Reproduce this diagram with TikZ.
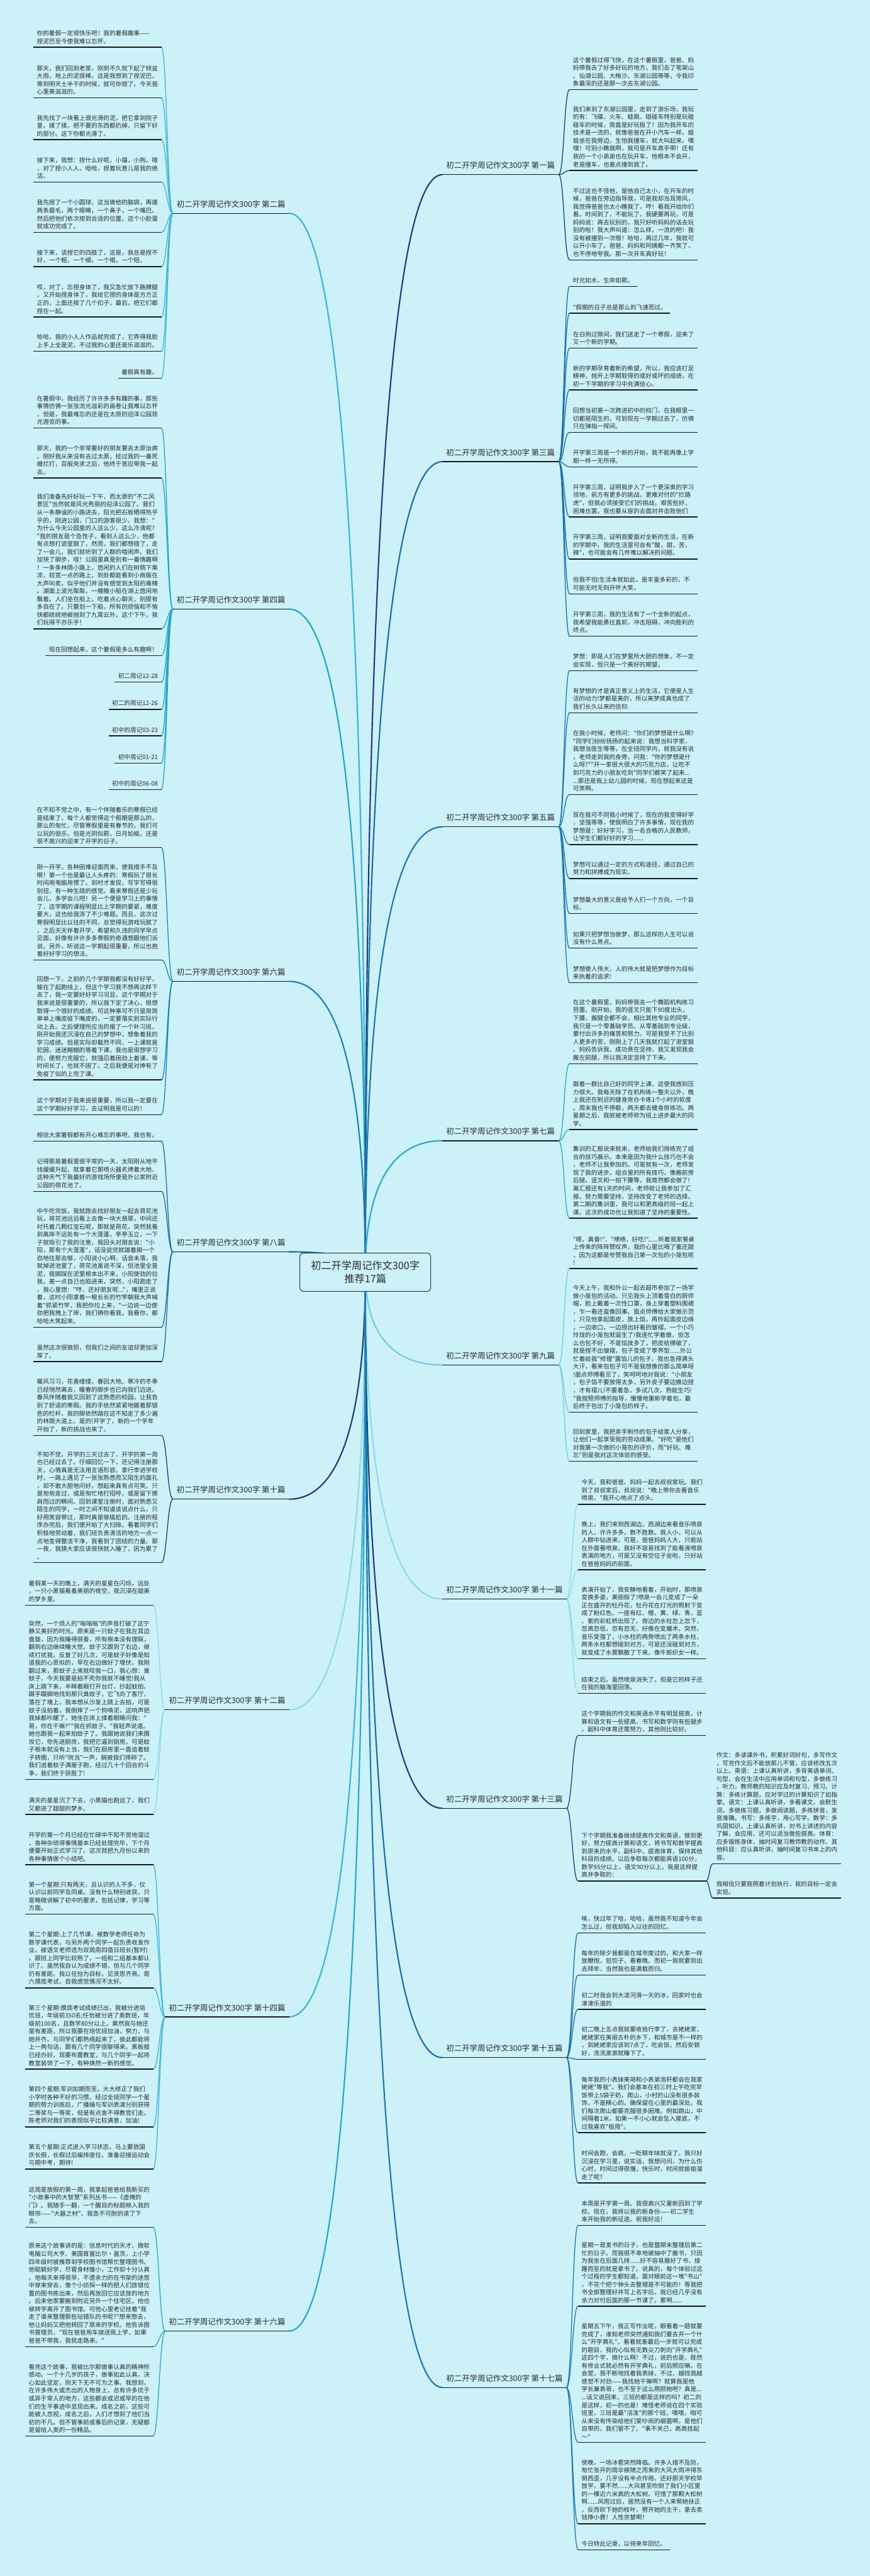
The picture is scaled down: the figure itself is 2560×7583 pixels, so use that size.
\documentclass[tikz,border=0pt]{standalone}
\usepackage{fontspec}
\newfontfamily\cjkfont{Noto Sans CJK SC}
\usetikzlibrary{positioning,calc}
\definecolor{bgc}{HTML}{CCF1F8}
\definecolor{txt}{HTML}{2A2A2A}
\definecolor{ulc}{HTML}{1A1A1A}
\definecolor{rootc}{HTML}{3A3A3A}
\definecolor{c1}{HTML}{1B3F7F}
\definecolor{c2}{HTML}{3DB5D5}
\definecolor{c3}{HTML}{1A6EA6}
\definecolor{c4}{HTML}{21A5C5}
\definecolor{c5}{HTML}{1F75AE}
\definecolor{c6}{HTML}{1784B5}
\definecolor{c7}{HTML}{2BAACB}
\definecolor{c8}{HTML}{1A6BA0}
\definecolor{c9}{HTML}{6FCDE2}
\definecolor{c10}{HTML}{1B3C7C}
\definecolor{c11}{HTML}{8DD9EA}
\definecolor{c12}{HTML}{8DD9EA}
\definecolor{c13}{HTML}{1B3F7F}
\definecolor{c14}{HTML}{3DB5D5}
\definecolor{c15}{HTML}{1A6EA6}
\definecolor{c16}{HTML}{27A7C9}
\definecolor{c17}{HTML}{1C78B0}
\definecolor{tc9}{HTML}{1D5C68}
\definecolor{tc11}{HTML}{2898B4}
\definecolor{tc12}{HTML}{2EA5C4}
\definecolor{tc14}{HTML}{22505D}
\newcommand\leaffont{\cjkfont\fontsize{8.9pt}{11.6pt}\selectfont}
\newcommand\branchfont{\cjkfont\fontsize{11.5pt}{14pt}\selectfont}
\newcommand\rootfont{\cjkfont\fontsize{15pt}{19pt}\selectfont}
\pgfdeclarelayer{bg}
\pgfdeclarelayer{links}
\pgfsetlayers{bg,links,main}

\begin{document}
\begin{tikzpicture}[
    x=0.5pt, y=-0.5pt,
    uline/.style={draw=ulc, line width=1.25pt},
    under/.style={append after command={(\tikzlastnode.south west) edge[uline] (\tikzlastnode.south east)}},
    leaf/.style={under, font=\leaffont, text=txt, inner xsep=5pt, inner ysep=4.5pt, align=left},
    wide/.style={leaf, text width=178pt},
    lleaf/.style={wide, anchor=south east},
    rleaf/.style={wide, anchor=south west},
    lshort/.style={leaf, anchor=south east},
    rshort/.style={leaf, anchor=south west},
    topic/.style={under, font=\branchfont, text=txt, inner xsep=5.5pt, inner ysep=8pt},
    ltopic/.style={topic, anchor=south east},
    rtopic/.style={topic, anchor=south west},
    root/.style={draw=rootc, line width=1pt, rounded corners=5pt, fill=bgc, minimum width=192.5pt, minimum height=56.5pt, align=center, font=\rootfont, text=txt},
    trunk/.style={line width=2pt},
    twig/.style={line width=1.2pt, distance=8pt}
]
\begin{pgfonlayer}{bg}
\fill[bgc] (0,0) rectangle (2560,7583);
\end{pgfonlayer}
\useasboundingbox (0,0) rectangle (2560,7583);

\node[root] (root) at (1075,3745) {初二开学周记作文300字\\推荐17篇};

% topics
\node[rtopic] (b1) at (1302,514) {初二开学周记作文300字 第一篇};
\node[ltopic] (b2) at (851,628) {初二开学周记作文300字 第二篇};
\node[rtopic] (b3) at (1302,1359) {初二开学周记作文300字 第三篇};
\node[ltopic] (b4) at (851,1793) {初二开学周记作文300字 第四篇};
\node[rtopic] (b5) at (1302,2434) {初二开学周记作文300字 第五篇};
\node[ltopic] (b6) at (851,2889) {初二开学周记作文300字 第六篇};
\node[rtopic] (b7) at (1302,3358) {初二开学周记作文300字 第七篇};
\node[ltopic] (b8) at (851,3685) {初二开学周记作文300字 第八篇};
\node[rtopic] (b9) at (1302,4018) {初二开学周记作文300字 第九篇};
\node[ltopic] (b10) at (851,4413) {初二开学周记作文300字 第十篇};
\node[rtopic] (b11) at (1302,4707) {初二开学周记作文300字 第十一篇};
\node[ltopic] (b12) at (851,5033) {初二开学周记作文300字 第十二篇};
\node[rtopic] (b13) at (1302,5323) {初二开学周记作文300字 第十三篇};
\node[ltopic] (b14) at (851,5937) {初二开学周记作文300字 第十四篇};
\node[rtopic] (b15) at (1302,6057) {初二开学周记作文300字 第十五篇};
\node[ltopic] (b16) at (851,6862) {初二开学周记作文300字 第十六篇};
\node[rtopic] (b17) at (1302,7028) {初二开学周记作文300字 第十七篇};

% 第一篇
\node[rleaf] (t1-1) at (1676,264) {这个暑假过得飞快，在这个暑假里，爸爸、妈\\妈带我去了好多好玩的地方。我们去了笔架山\\、仙湖公园、大梅沙、东湖公园等等，令我印\\象最深的还是那一次去东湖公园。};
\node[rleaf] (t1-2) at (1676,502) {我们来到了东湖公园里，走到了游乐场，我玩\\的有：飞碟、火车、蛙跳、碰碰车特别是玩碰\\碰车的时候，简直是好玩极了！因为我开车的\\技术是一流的，就像爸爸在开小汽车一样。姐\\姐坐在我旁边，生怕我撞车，就大叫起来。嘿\\嘿！可别小瞧我啊，我可是开车高手啊！还有\\我的一个小弟弟也在玩开车，他根本不会开，\\老是撞车，也差点撞到我了。};
\node[rleaf] (t1-3) at (1676,765) {不过这也不怪他，是他自己太小，在开车的时\\候，爸爸在旁边指导我，可是我却当耳旁风，\\我觉得爸爸也太小瞧我了，哼！看我开给你们\\看。时间到了，不能玩了，我硬要再玩，可是\\妈妈说：再去玩别的，我只好听妈妈的话去玩\\别的啦！我大声叫道：怎么样，一流的吧！我\\没有被撞到一次哦！哈哈，再过几年，我就可\\以开小车了。爸爸、妈妈和阿姨都一齐笑了，\\也不停地夸我。那一次开车真好玩！};

% 第二篇
\node[lleaf] (t2-1) at (475,139) {你的暑假一定很快乐吧！我的暑假趣事——\\捏泥巴至今使我难以忘怀。};
\node[lleaf] (t2-2) at (475,288) {那天，我们回到老家，刚到不久就下起了倾盆\\大雨，地上的泥很稀，这是我想到了捏泥巴，\\等到明天土半干的时候，就可你捏了。今天我\\心里美滋滋的。};
\node[lleaf] (t2-3) at (475,411) {我先找了一块看上很光滑的泥，把它拿到院子\\里，揉了揉，把不要的东西都扔掉，只留下好\\的部分。这下你都光滑了。};
\node[lleaf] (t2-4) at (475,536) {接下来，我想：捏什么好呢，小猫，小狗。哦\\，对了捏小人人，哈哈，捏着玩意儿是我的绝\\活。};
\node[lleaf] (t2-5) at (475,684) {我先捏了一个小圆球，这当做他的脑袋，再搓\\两条眉毛，两个眼睛，一个鼻子，一个嘴巴。\\然后把他们依次按到合适的位置。这个小脸蛋\\就成功完成了。};
\node[lleaf] (t2-6) at (475,785) {接下来，该捏它的四肢了，这是，我总是捏不\\好，一个粗，一个细，一个唱，一个短。};
\node[lleaf] (t2-7) at (475,933) {哎，对了，忘捏身体了，我又急忙放下胳膊腿\\，又开始捏身体了，我给它捏的身体是方方正\\正的，上面还按了几个扣子，最后，把它们都\\捏在一起。};
\node[lleaf] (t2-8) at (475,1034) {哈哈，我的小人人作品就完成了，它弄得我脸\\上手上全是泥，不过我的心里还是乐滋滋的。};
\node[lshort] (t2-9) at (475,1113) {暑假真有趣。};

% 第三篇
\node[rshort] (t3-1) at (1676,843) {时光如水，生命如歌。};
\node[rshort] (t3-2) at (1676,922) {"假期的日子总是那么的飞速而过。};
\node[rleaf] (t3-3) at (1676,1025) {在白驹过隙间，我们送走了一个寒假，迎来了\\又一个新的学期。};
\node[rleaf] (t3-4) at (1676,1148) {新的学期孕育着新的希望，所以，我应该打足\\精神，抛开上学期取得的或好或坏的成绩，在\\初一下学期的学习中充满信心。};
\node[rleaf] (t3-5) at (1676,1273) {回想当初第一次跨进初中的校门，在我眼里一\\切都是陌生的，可到现在一学期过去了，仿佛\\只在弹指一挥间。};
\node[rleaf] (t3-6) at (1676,1374) {开学第三周是一个新的开始，我不能再像上学\\期一样一无所得。};
\node[rleaf] (t3-7) at (1676,1522) {开学第三周，证明我步入了一个更深奥的学习\\领地，前方有更多的挑战，更难对付的"拦路\\虎"，但我必须接受它们的挑战，艰苦些好，\\困难也罢，我也要从容的去面对并击败他们};
\node[rleaf] (t3-8) at (1676,1646) {开学第三周，证明我要面对全新的生活，在新\\的学期中，我的生活里可会有"酸，甜，苦，\\辣"，也可能会有几件难以解决的问题。};
\node[rleaf] (t3-9) at (1676,1748) {但我不怕!生活本就如此，是丰富多彩的，不\\可能无时无刻开怀大笑。};
\node[rleaf] (t3-10) at (1676,1873) {开学第三周，我的生活有了一个全新的起点，\\我希望我能勇往直前，冲击阻碍，冲向胜利的\\终点。};

% 第四篇
\node[lleaf] (t4-1) at (475,1260) {在暑假中，我经历了许许多多有趣的事，那些\\事情仿佛一张张流光溢彩的画卷让我难以忘怀\\，但是，我最难忘的还是在太原的迎泽公园观\\光游览的事。};
\node[lleaf] (t4-2) at (475,1407) {那天，我的一个非常要好的朋友要去太原治病\\。刚好我从来没有去过太原，经过我的一番死\\缠烂打，百般央求之后，他终于答应带我一起\\去。};
\node[lleaf] (t4-3) at (475,1851) {我们准备先好好玩一下午，而太原的"不二风\\景区"当然就是风光秀丽的迎泽公园了。我们\\从一条静谧的小路进去，阳光把石板晒得热乎\\乎的，刚进公园，门口的游客很少。我想："\\为什么今天公园里的人这么少，这么冷清呢?\\"我的朋友是个急性子，看到人这么少，他都\\有点想打退堂鼓了。然而，我们都想错了，走\\了一会儿，我们就听到了人群的喧闹声。我们\\加快了脚步，哇！公园里真是别有一番情趣啊\\！一条条林荫小路上，悠闲的人们在树荫下乘\\凉，较宽一点的路上，到处都能看到小商贩在\\大声叫卖，似乎他们并没有感觉到太阳的毒辣\\。湖面上波光粼粼，一艘艘小船在湖上悠闲地\\飘着。人们坐在船上，吃着点心聊天，别提有\\多自在了。只要划一下船，所有的烦恼和不愉\\快都统统地被抛到了九霄云外。这个下午，我\\们玩得不亦乐乎！};
\node[lshort] (t4-4) at (475,1930) {现在回想起来，这个暑假是多么有趣啊！};
\node[lshort] (t4-5) at (475,2008) {初二周记12-28};
\node[lshort] (t4-6) at (475,2088) {初二的周记12-26};
\node[lshort] (t4-7) at (475,2166) {初中的周记03-23};
\node[lshort] (t4-8) at (475,2246) {初中周记01-21};
\node[lshort] (t4-9) at (475,2324) {初中的周记06-08};

% 第五篇
\node[rleaf] (t5-1) at (1676,1974) {梦想：即是人们在梦里所大胆的想象，不一定\\会实现，但只是一个美好的期望。};
\node[rleaf] (t5-2) at (1676,2098) {有梦想的才是真正意义上的生活，它便是人生\\活的动力!梦都是美的，所以美梦成真也成了\\我们长久以来的信仰.};
\node[rleaf] (t5-3) at (1676,2339) {在我小时候，老师问："你们的梦想是什么啊?\\"同学们纷纷扬扬的起来说：我想当科学家，\\我想当医生等等，在全班同学内，就我没有说\\，老师走到我的身旁，问我："你的梦想是什\\么呀?""开一家很大很大的巧克力店，让吃不\\到巧克力的小朋友吃到"同学们都笑了起来...\\...那还是我上幼儿园的时候，现在想起来这是\\可笑啊。};
\node[rleaf] (t5-4) at (1676,2486) {现在我可不同我小时候了，现在的我变得好学\\，坚强等等，使我明白了许多事情，现在我的\\梦想是：好好学习，当一名合格的人民教师，\\让学生们都好好的学习......};
\node[rleaf] (t5-5) at (1676,2586) {梦想可以通过一定的方式和途径，通过自己的\\努力和拼搏成为现实。};
\node[rleaf] (t5-6) at (1676,2689) {梦想最大的意义是给予人们一个方向，一个目\\标。};
\node[rleaf] (t5-7) at (1676,2791) {如果只把梦想当做梦，那么这样的人生可以说\\没有什么亮点。};
\node[rleaf] (t5-8) at (1676,2893) {梦想使人伟大，人的伟大就是把梦想作为目标\\来执着的追求!};

% 第六篇
\node[lleaf] (t6-1) at (475,2495) {在不知不觉之中，有一个伴随着乐的寒假已经\\是结束了，每个人都觉得这个假期是那么的，\\那么的匆忙，尽管寒假里是有春节的，我们可\\以玩的很乐，但是光阴似箭，日月如梭。还是\\很不高兴的迎来了开学的日子。};
\node[lleaf] (t6-2) at (475,2826) {刚一开学，各种困难迎面而来，使我措手不及\\啊！第一个也是最让人头疼的：寒假玩了很长\\时间用电脑用惯了。到时才发现，写字写得很\\别扭，有一种生疏的感觉。看来寒假还是少玩\\会儿，多学会儿吧！另一个便是学习上的事情\\了，这学期的课程明显比上学期的要紧，难度\\要大，这也给我添了不少难题。而且，这次过\\寒假明显比以往的不同，总觉得玩游戏玩腻了\\，之后天天伴着开学，希望和久违的同学早点\\见面，好像有许许多多寒假的奇遇想跟他们诉\\说。另外，听说这一学期起很重要，所以也抱\\着好好学习的想法。};
\node[lleaf] (t6-3) at (475,3179) {回想一下，之前的几个学期我都没有好好学，\\输在了起跑线上，但这个学习我不想再这样下\\去了，我一定要好好学习况且，这个学期对于\\我来说是很重要的，所以我下定了决心，很想\\取得一个很好的成绩。可这种事可不只是简简\\单单上嘴皮碰下嘴皮的，一定要落实到实际行\\动上去。之后便理所应当的报了一个补习班，\\刚开始我还沉浸在自己的梦想中，想象着我的\\学习成绩。但是实际却截然不同，一上课就是\\犯困，迷迷糊糊的等着下课，我也是很想学习\\的，便努力克服它，就强忍着困劲上着课，等\\时间长了，也就不困了。之后我便是对抻有了\\免疫了似的上完了课。};
\node[lleaf] (t6-4) at (475,3281) {这个学期对于我来说很重要，所以我一定要在\\这个学期好好学习，去证明我是可以的！};

% 第七篇
\node[rleaf] (t7-1) at (1676,3131) {在这个暑假里，妈妈带我去一个舞蹈机构练习\\芭蕾。刚开始，我的竖叉只能下90度出头，\\下腰、搬腿全都不会，相比其他专业的同学，\\我只是一个零基础学员。从零基础到专业级，\\要付出许多的痛苦和努力。可是我受不了比别\\人更多的苦，刚刚上了几天我就打起了退堂鼓\\。妈妈告诉我，成功贵在坚持，我又发现我会\\搬左前腿，所以我决定坚持了下来。};
\node[rleaf] (t7-2) at (1676,3325) {跟着一群比自己好的同学上课，这使我感到压\\力很大。我每天除了在机构练一整天以外，晚\\上我还在附近的健身房办卡练1个小时的软度\\。周末我也不停歇，两天都去健身房练功。两\\星期之后，我就被老师称为班上进步最大的同\\学。};
\node[rleaf] (t7-3) at (1676,3586) {集训的汇报说来就来，老师给我们排练完了组\\合的技巧展示。本来是因为我什么技巧也不会\\，老师不让我参加的。可是就有一次，老师发\\现了我的进步。组合里的所有技巧，像搬前旁\\后腿、竖叉和一拍下腰等，我竟然都会做了!\\离汇报还有1天的时间，老师就让我参加了汇\\报。努力需要坚持，坚持改变了老师的选择。\\第二期的集训里，我可以和更高级的班一起上\\课。这次的成功也让我知道了坚持的重要性。};

% 第八篇
\node[lleaf] (t8-1) at (475,3359) {相信大家暑假都有开心难忘的事吧，我也有。};
\node[lleaf] (t8-2) at (475,3507) {记得那是暑假里很平常的一天，太阳刚从地平\\线缓缓升起，就拿着它那喷火器炙烤着大地，\\这种天气下我最好的游戏场所便是外公家附近\\公园的荷花池了。};
\node[lleaf] (t8-3) at (475,3907) {中午吃完饭，我就跑去找好朋友一起去荷花池\\玩，荷花池远远看上去像一块大翡翠，中间还\\衬托着几颗红宝石呢，那就是荷花，突然我看\\到离岸不远处有一个大莲蓬，亭亭玉立，一下\\子就吸引了我的注意，我回头对朋友说："小\\阳，那有个大莲蓬"，话没说完就踮着脚一个\\劲地往那去够，小阳说小心啊，话音未落，我\\就掉进池里了，荷花池虽说不深，但池里全是\\泥，我脚踩在泥里根本出不来，小阳使劲的拉\\我，差一点自己也陷进来，突然，小阳跑走了\\，我心里想："哼，还好朋友呢..."，嘴里正说\\着，这时小阳拿着一根长长的竹竿朝我大声喊\\着"抓紧竹竿，我把你拉上来，"一边说一边使\\劲把我拽上了岸，我们俩你看我，我看你，都\\哈哈大笑起来。};
\node[lleaf] (t8-4) at (475,4008) {虽然这次很狼狈，但我们之间的友谊却更加深\\厚了。};

% 第九篇
\begin{scope}[every node/.append style={text=tc9}]
\node[rleaf] (t9-1) at (1676,3734) {"嗯，真香!"、"啧啧，好吃!"......听着我家餐桌\\上传来的阵阵赞叹声，我的心里比喝了蜜还甜\\，因为这都是夸赞我自己第一次包的小笼包呢\\!};
\node[rleaf] (t9-2) at (1676,4157) {今天上午，我和外公一起去超市参加了一场学\\做小笼包的活动。只见我头上顶着雪白的厨师\\帽，脸上戴着一次性口罩，身上穿着塑料围裙\\，乍一看还蛮像回事。面点师傅给大家做示范\\，只见他拿起面皮，放上馅，再拎起面皮边缘\\，一边收口，一边捏出好看的皱褶，一个小巧\\玲珑的小笼包就诞生了!我连忙学着做，但怎\\么也包不好，不是馅放多了，把皮给撑破了，\\就是捏不出皱褶，包子变成了荸荠型......外公\\忙着给我"修理"露馅儿的包子，我也急得满头\\大汗，看来包包子可不是我想像的那么简单呀\\!面点师傅看见了，笑呵呵地对我说："小朋友\\，包子馅不要放得太多，另外皮子要边推边捏\\，才有褶儿!不要着急，多试几次，熟能生巧!\\"我按照师傅的指导，慢慢地重新学着包，最\\后终于包出了小笼包的样子。};
\node[rleaf] (t9-3) at (1676,4302) {回到家里，我把亲手制作的包子给家人分享，\\让他们一起享受我的劳动成果。"好吃"是他们\\对我第一次做的小笼包的评价，而"好玩、难\\忘"则是我对这次体验的感受。};
\end{scope}

% 第十篇
\node[lleaf] (t10-1) at (475,4225) {暖风习习，花香缕缕，春回大地。寒冷的冬季\\已经悄然离去，暖春的脚步也已向我们迈进。\\春风伴随着我又回到了这熟悉的校园，让我告\\别了舒适的寒假。我的手依然紧紧地握着那银\\色的栏杆，我的脚依然踏在这不知走了多少遍\\的林荫大道上。是的!开学了，新的一个学年\\开始了，新的挑战也来了。};
\node[lleaf] (t10-2) at (475,4600) {不知不觉，开学的三天过去了，开学的第一周\\也已经过去了。仔细回忆一下，还记得注册那\\天，心情真是无法用言语形容。拿行李进学校\\时，一路上遇见了一张张熟悉而又陌生的面孔\\，却不敢大胆地问好，想起来真有点可笑。只\\是匆匆走过，或是匆忙地打招呼，或是留下擦\\肩而过的瞬间。回到课室注册时，面对熟悉又\\陌生的同学，一时之间不知道该说点什么，只\\好用笑容带过，那时真是够尴尬的。注册的程\\序办完后，我们便开始了大扫除。看着同学们\\积极地劳动着，我们班负责清洁的地方一点一\\点地变得整洁干净，我看到了团结的力量。那\\一夜，我猜大家应该很快就入睡了，因为累了\\。};

% 第十一篇
\begin{scope}[every node/.append style={text=tc11}]
\node[rleaf] (t11-1) at (1701,4428) {今天，我和爸爸、妈妈一起去叔叔家玩。我们\\到了叔叔家后，叔叔说："晚上带你去看音乐\\喷泉。"我开心地点了点头。};
\node[rleaf] (t11-2) at (1701,4621) {晚上，我们来到西湖边，西湖边来看音乐喷泉\\的人，许许多多，数不胜数。我人小，可以从\\人群中钻进来，可是，爸爸妈妈人大，只能站\\在外面看喷泉。我好不容易找到了能看清喷泉\\表演的地方，可是又没有空位子坐啦，只好站\\在爸爸妈妈的前面。};
\node[rleaf] (t11-3) at (1701,4883) {表演开始了，我安静地看着，开始时，那喷泉\\变换多姿，美丽极了!喷泉一会儿变成了一朵\\正在盛开的牡丹花，牡丹花在灯光的照射下变\\成了粉红色。一座有红、橙、黄、绿、青、蓝\\、紫的彩虹桥出现了。旁边的水柱忽上忽下，\\忽高忽低，忽有忽无，好像在变魔术。突然，\\音乐变强了，小水柱的两旁喷出了两条水柱，\\两条水柱都想碰到对方，可是还没碰到对方，\\就变成了水雾飘散了下来，像牛郎织女一样。};
\node[rleaf] (t11-4) at (1701,4985) {结束之后，虽然喷泉消失了，但是它的样子还\\在我的脑海里回荡。};
\end{scope}

% 第十二篇
\begin{scope}[every node/.append style={text=tc12}]
\node[lleaf] (t12-1) at (451,4725) {暑假某一天的晚上，满天的星星在闪烁，远处\\，一只小黑猫看着美丽的夜空，我沉浸在甜美\\的梦乡里。};
\node[lleaf] (t12-2) at (451,5238) {突然，一个烦人的"嗡嗡嗡"的声音打破了这宁\\静又美好的时光。原来是一只蚊子在我左耳边\\盘旋，因为我睡得很香，所有根本没有理睬，\\翻到右边继续睡大觉。蚊子又跟到了右边，继\\续打扰我，反复了好几次，可是蚊子好像是知\\道我的心思似的，早在右边做好了埋伏，我刚\\翻过来，那蚊子上来就咬我一口，我心想：臭\\蚊子，今天我要是拍不死你我就不睡觉!我从\\床上跳下来，半眯着眼打开台灯，抄起蚊拍，\\蹑手蹑脚地找到那只臭蚊子，它飞向了客厅，\\落在了墙上，我本想从沙发上跳上去拍，可是\\蚊子没拍着，我倒摔了一个狗啃泥，这响声把\\我妹都吵醒了，她坐在床上揉着眼睛问我："\\哥，你在干嘛?""我在抓蚊子。"我轻声说道。\\她也跟我一起来拍蚊子了。我跟她说我们来围\\攻它，你先进厨房，我把它逼到厨房。可是蚊\\子根本就没有上当，我们在厨房里一直追着蚊\\子转圈，只听"咣当"一声，碗被我们摔碎了。\\我们追着蚊子满屋子跑，经过几十个回合的斗\\争，我们终于获胜了!};
\node[lleaf] (t12-3) at (451,5341) {满天的星星沉了下去，小黑猫也跑远了，我们\\又都进了甜甜的梦乡。};
\end{scope}

% 第十三篇
\node[rleaf] (t13-1) at (1701,5109) {这个学期我的作文和英语水平有明显提高，计\\算和语文有一些提高，书写和数学则有些腿步\\，副科中体育还需努力，其他则比较好。};
\node[rleaf] (t13-2) at (1701,5537) {下个学期我准备继续提高作文和英语，做到更\\好，努力提高计算和语文，将书写和数学提高\\到原来的水平，副科中，提高体育，保持其他\\科目的成绩。以后争取每次都能英语100分，\\数学95分以上，语文90分以上。我是这样提\\高并争取的：};
\node[rleaf] (g1) at (2098,5486) {作文：多读课外书，积累好词好句，多写作文\\，写完作文后不能放那儿不管，应该修改五次\\以上。英语：上课认真听讲，多背英语单词、\\句型，会在生活中应用单词和句型，多做练习\\、听力，教师教的知识应及时复习、预习。计\\算：多练计算题，应对学过的计算知识了如指\\掌。语文：上课认真听讲，多看课文，会默生\\词，多做练习题，多做阅读题，多练拼音，发\\音准确。书写：多练字，用心写字。数学：多\\巩固知识，上课认真听讲，对书上讲述的内容\\了解，会应用，还可以适当做些提高。体育：\\应多锻炼身体，抽时间复习教师教的动作。其\\他科目：应认真听讲，抽时间复习书本上的内\\容。};
\node[rleaf] (g2) at (2098,5587) {我相信只要我照着计划执行，我的目标一定会\\实现。};

% 第十四篇
\begin{scope}[every node/.append style={text=tc14}]
\node[lleaf] (t14-1) at (451,5489) {开学的第一个月已经在忙碌中不知不觉地溜过\\，各种杂琐得事情基本已经处理完毕，下个月\\便要开始正式学习了。这次就把九月份以来的\\各种事情做个小结吧。};
\node[lleaf] (t14-2) at (451,5635) {第一个星期:只有两天，且认识的人不多，仅\\认识以前同学及同桌。没有什么特别收获，只\\是略微讲解了初中的要求，包括记律，学习等\\方面。};
\node[lleaf] (t14-3) at (451,5852) {第二个星期:上了几节课，被数学老师任命为\\数学课代表，与另外两个同学一起负责收发作\\业。被语文老师选为双周周四值日班长(暂时)\\。跟班上同学比较熟了，一组和二组基本都认\\识了。虽然我自认为成绩不错，但与几个同学\\仍有差距。我以任怡为目标，见贤思齐焉。周\\六摸底考试，自我感觉情况不太好。};
\node[lleaf] (t14-4) at (451,6091) {第三个星期:摸底考试成绩已出，我被分进培\\优班，年级前350名;任怡被分进了奥数班，年\\级前100名，且数学80分以上。果然我与她还\\是有差距，所以我要在培优班加油，努力，与\\她并齐。与同学们都熟络起来了，彼此都能将\\上一两句话，跟有几个同学很聊得来。黑板报\\已经办好，现要布置教室，与几个同学一起将\\教室装饰了一下，有种焕然一新的感觉。};
\node[lleaf] (t14-5) at (451,6261) {第四个星期:军训如期而至，大大修正了我们\\小学时各种不好的习惯。经过全班同学一个星\\期的努力训练后，广播操与军训表演分别获得\\二等奖与一等奖，但是有点舍不得教官们走。\\陈老师对我们的表现似乎比较满意，加油!};
\node[lleaf] (t14-6) at (451,6385) {第五个星期:正式进入学习状态，马上要放国\\庆长假，长假过后编排座位，准备迎接运动会\\与期中考，期待!};
\end{scope}

% 第十五篇
\node[rleaf] (t15-1) at (1701,5690) {唉，快过年了哈，哈哈，虽然我不知道今年会\\怎么过，但我却陷入以往的回忆。};
\node[rleaf] (t15-2) at (1701,5814) {每年的除夕我都是在城市度过的，和大家一样\\放鞭炮，包饺子，看春晚。而初一我就要到出\\去拜年，当然我也是满载而归。};
\node[rleaf] (t15-3) at (1701,5915) {初二时我会到大凌河滑一天的冰，回家时也会\\津津乐道的};
\node[rleaf] (t15-4) at (1701,6062) {初二晚上五点我就要收拾行李了，去姥姥家，\\姥姥家在美丽古朴的乡下，和城市是不一样的\\，到姥姥家应该到7点了，吃会饭，然后安顿\\好，洗洗漱漱就睡下了。};
\node[rleaf] (t15-5) at (1701,6278) {每年我的小表妹美琦和小表弟浩轩都会在我家\\姥姥"等我"。我们会基本在初三时上午吃完早\\饭带上5袋子奶，爬山，小村的山没有很多装\\饰，不是精心的。确保留在心里的最深处。我\\们每次爬山都要克服很多困难。例如跳山，中\\间隔着1米，如果一不小心就会坠入崖底，不\\过我喜欢"极限"。};
\node[rleaf] (t15-6) at (1701,6426) {时间会跑，会跳，一眨眼年味就没了。我只好\\沉浸在学习里，说实话，我想问问，为什么伤\\心时，时间过得很慢，快乐时，时间就偷偷溜\\走了呢?};

% 第十六篇
\node[lleaf] (t16-1) at (451,6556) {这周是放假的第一周，我拿起爸爸给我新买的\\"小故事中的大智慧"系列丛书——《虚掩的\\门》。我随手一翻，一个醒目的标题映入我的\\眼帘——"大器之材"。我急不可耐的读了下\\去。};
\node[lleaf] (t16-2) at (451,6908) {原来这个故事讲的是：信息时代的天才、微软\\电脑公司大亨、美国首富比尔·盖茨，上小学\\四年级时被推荐到学校图书馆帮忙整理图书。\\他聪颖好学，尽管身材瘦小，工作却十分认真\\。他每天来得很早，不遗余力的在书架的迷宫\\中穿来穿去，像个小侦探一样的把人们放错位\\置的图书拣出来，然后再放回它应该放的地方\\。后来他家要搬到附近另外一个住宅区，他也\\被转学离开了图书馆。可他心里老记挂着"我\\走了谁来整理那些站错队的书呢?"想来想去，\\他让妈妈又把他转回了原来的学校。他告诉图\\书管理员，"现在爸爸用车接送我上学，如果\\爸爸不带我，我就走路来。"};
\node[lleaf] (t16-3) at (451,7171) {看完这个故事，我被比尔那做事认真的精神所\\感动。一个十几岁的孩子，做事如此认真，决\\心如此坚定，则天下无不可为之事。我想到，\\在许多伟大或杰出的人物身上，总有许多优于\\或异于常人的地方，这些都会或迟或早的在他\\们的生平事迹中显现出来。成名之前，这些可\\能被人忽视，成名之后，人们才想到了他们当\\初的不凡。但不管事前或事后的记录，无疑都\\是留给人类的一份精品。};

% 第十七篇
\node[rleaf] (t17-1) at (1701,6551) {本周是开学第一周。我很高兴又重新回到了学\\校。现在，我将以我的新身份——初二学生\\来开始我的新征途。祝我好运！};
\node[rleaf] (t17-2) at (1701,6789) {星期一是发书的日子，也是暨期末整理后第二\\忙的日子。而我很不幸地被抽中了搬书，只因\\为我坐在后面几排......好不容易搬好了书，接\\踵而至的就是拿书了。说真的，每个体验过这\\个过程的学生都知道，面对眼前这一堆"书山"\\，不花个把个钟头去整理是不可能的！等我把\\书全部整理好并写上名字后，我已经几乎没有\\余力对付后面的那一节课了。累啊......};
\node[rleaf] (t17-3) at (1701,7189) {星期五下午，我正写作业呢，眼看着一题就要\\完成了，谁知老师突然通知我们要去开一个什\\么"开学典礼"。看着就差最后一步就可以完成\\的题目，我的心似有无数尖刀刺向"开学典礼"\\这四个字，搞什么啊！不过，说的也是，既然\\有修业式就必然有开学典礼，前后照应嘛。在\\会堂，我不断地找着我表妹，不过，越找我越\\感觉不对劲——我找她干嘛啊？就算我是他\\学长兼表哥，也不至于这么照顾她吧？真是...\\...话又说回来，三班的都是这样的吗？初二的\\是这样，初一的也是！难怪老师说在四个实验\\班里，三班是最"活泼"的那个班。嘿嘿，咱可\\从来没有传染给他们爱吵闹的细菌啊，是他们\\自带的，我们管不了。"事不关己，高高挂起\\～"};
\node[rleaf] (t17-4) at (1701,7429) {傍晚，一场冰雹突然降临。许多人措不及防，\\匆忙张开的雨伞被随之而来的大风大雨冲得东\\倒西歪，几乎没有半点作用。还好那天学校早\\放学，要不然......大风甚至吹倒了我们小区里\\的一棵近六米高的大松树。可惜了那颗大松树\\啊......风雨过后，居然没有一个人来帮她扶正\\，反而砍下她的枝叶，劈开她的主干，拿去卖\\钱挣小费！人性贪婪啊！};
\node[rshort] (t17-5) at (1701,7506) {今日特此记录，以待来年回忆。};

% connectors
\begin{pgfonlayer}{links}
\foreach \b/\v in {2/-1721,4/-1078,6/-473,8/-33,10/369,12/711,14/1210,16/1721}
  \draw[trunk, draw=c\b] (b\b.south east) .. controls +(168,0) and +(0,\v) .. (root.center);
\foreach \b/\v in {1/-1784,3/-1317,5/-724,7/-214,9/151,11/531,13/871,15/1276,17/1812}
  \draw[trunk, draw=c\b] (b\b.south west) .. controls +(-170,0) and +(0,\v) .. (root.center);
\foreach \b/\n in {2/9,4/9,6/4,8/4,10/2,12/3,14/6,16/3}
  \foreach \i in {1,...,\n}
    \draw[twig, draw=c\b] (b\b.south west) to[out=180, in=0] (t\b-\i.south east);
\foreach \b/\n in {1/3,3/10,5/8,7/3,9/3,11/4,13/2,15/6,17/5}
  \foreach \i in {1,...,\n}
    \draw[twig, draw=c\b] (b\b.south east) to[out=0, in=180] (t\b-\i.south west);
\foreach \g in {1,2}
  \draw[twig, draw=c13, distance=5pt] (t13-2.south east) to[out=0, in=180] (g\g.south west);
\end{pgfonlayer}
\end{tikzpicture}
\end{document}
